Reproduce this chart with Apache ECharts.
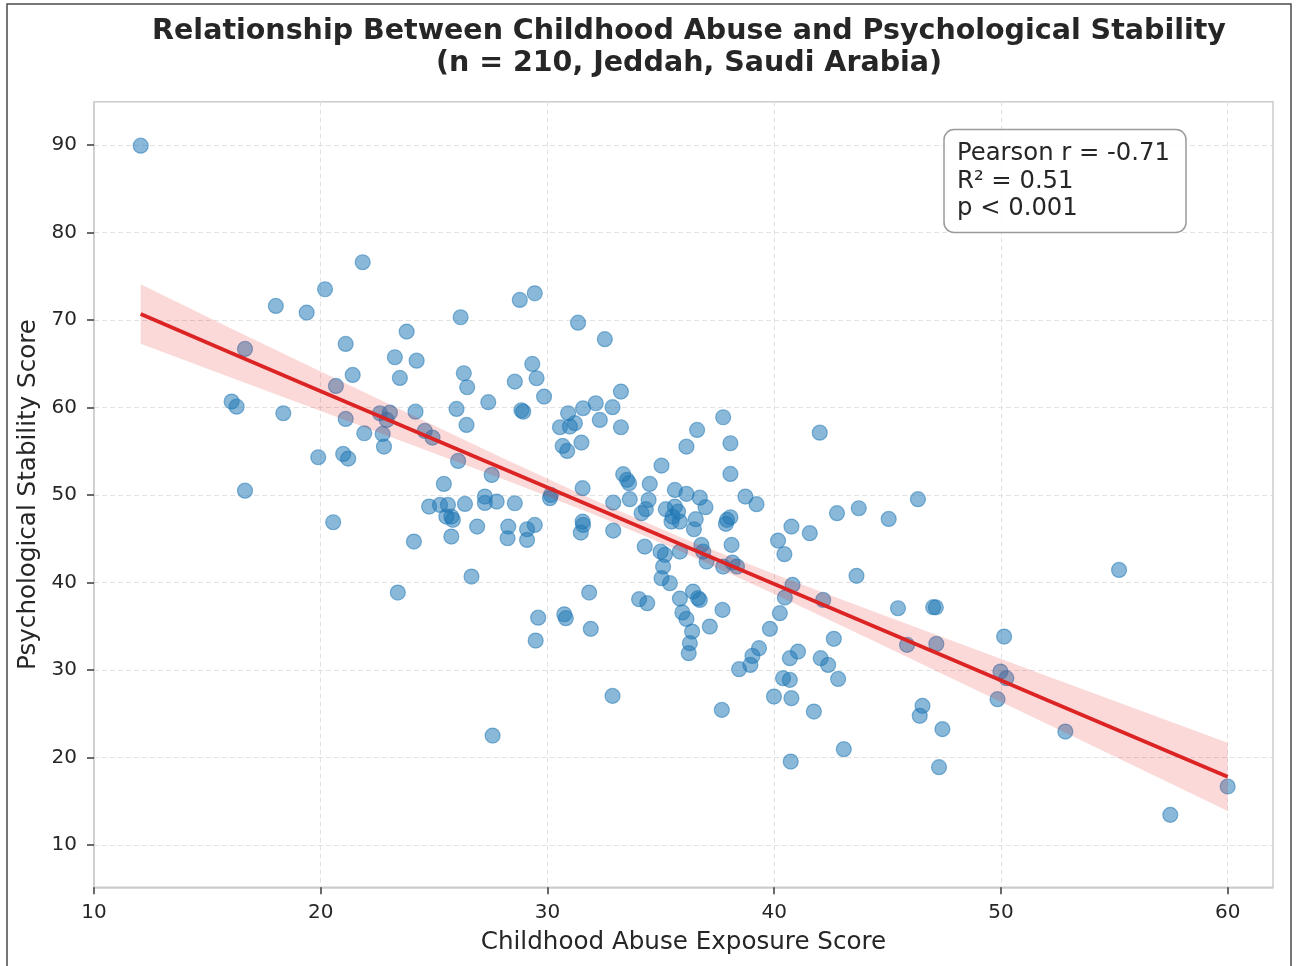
<!DOCTYPE html>
<html>
<head>
<meta charset="utf-8">
<script src="https://cdn.jsdelivr.net/npm/echarts@6/dist/echarts.min.js"></script>
<style>
html,body{margin:0;padding:0;background:#ffffff;}
#chart{width:1296px;height:966px;}
</style>
</head>
<body>
<div id="chart"></div>
<script>
// ---- data ----
const abuseScores = [
  12.06, 21.85, 20.19, 18.02, 19.38, 26.17, 23.79, 21.10, 23.27, 24.23,
  16.66, 21.41, 26.31, 23.49, 20.67, 26.46, 27.39, 16.07, 16.29, 18.35,
  25.99, 26.43, 24.18, 22.61, 23.05, 22.91, 21.10, 21.92, 22.73, 22.79,
  24.59, 24.93, 19.89, 20.99, 21.21, 26.06, 27.54, 25.43, 16.66, 24.78,
  25.26, 25.61, 25.54, 25.76, 25.83, 26.36, 27.24, 27.24, 27.76, 26.90,
  25.76, 20.55, 24.11, 26.65, 23.40, 27.58,
  28.78, 29.44, 31.35, 32.53, 29.33, 29.52, 28.56, 29.85, 28.93, 28.85,
  30.91, 31.57, 32.13, 32.87, 33.24, 30.55, 30.99, 31.21, 32.31, 33.24,
  30.67, 30.87, 31.50, 37.75, 36.60, 36.13, 38.07, 38.07, 35.03, 42.01,
  33.34, 33.51, 33.60, 34.51, 31.55, 35.62, 36.13, 36.72, 36.97, 38.73,
  39.22, 33.63, 34.46, 34.34, 34.15, 32.90, 35.22, 35.62, 35.52, 35.76,
  35.47, 35.84, 36.54, 36.46, 37.92, 38.07, 37.87, 28.56, 30.15, 30.11,
  28.27, 28.24, 29.10, 29.44, 29.10, 31.55, 31.57, 31.47, 32.90, 34.29,
  34.99, 35.18, 35.10, 35.03, 35.40, 35.84, 36.79, 36.87, 37.02, 38.12,
  37.75, 38.16, 38.36, 40.17, 40.45, 40.76, 41.57, 42.77, 43.73, 43.63,
  40.81, 40.47, 42.16, 31.84, 34.04, 34.40, 35.84, 36.42, 36.64, 36.72,
  37.72, 40.25, 29.59, 30.74, 30.81, 35.95, 36.13, 31.91, 29.48, 36.38,
  36.28, 36.23, 37.16, 39.81, 39.33, 39.04, 38.95, 38.45, 41.05, 40.69,
  42.63, 42.05, 42.38, 42.82, 40.39, 40.69, 39.99, 40.76, 41.75, 37.69,
  32.87, 43.07, 40.73,
  45.05, 46.34, 55.21, 45.46, 47.01, 47.13, 45.86, 47.15, 50.14, 49.98,
  50.24, 49.85, 46.54, 46.42, 47.42, 47.27, 52.84, 60.00, 57.47
];
const stabilityScores = [
  89.94, 76.62, 73.53, 71.62, 70.86, 70.33, 68.69, 67.28, 65.76, 65.37,
  66.71, 63.74, 63.93, 63.39, 62.48, 62.33, 60.62, 60.69, 60.11, 59.36,
  59.85, 58.02, 59.54, 59.36, 59.43, 58.59, 58.71, 57.07, 56.99, 55.54,
  57.34, 56.57, 54.33, 54.71, 54.17, 53.91, 52.31, 51.28, 50.51, 48.69,
  48.88, 48.88, 47.54, 47.54, 47.17, 48.99, 49.83, 49.11, 49.26, 46.40,
  45.26, 46.90, 44.69, 40.69, 38.86, 22.51,
  72.31, 73.07, 69.71, 67.82, 64.99, 63.36, 62.97, 61.26, 59.54, 59.70,
  59.36, 59.93, 60.50, 60.05, 61.83, 57.76, 57.83, 58.22, 58.59, 57.76,
  55.62, 55.05, 56.00, 58.90, 57.45, 55.54, 55.93, 52.42, 53.37, 57.14,
  52.39, 51.74, 51.36, 51.28, 50.79, 50.59, 50.14, 49.71, 48.62, 49.83,
  48.96, 49.53, 49.45, 48.39, 47.93, 49.14, 48.39, 48.69, 47.54, 48.11,
  46.97, 46.97, 47.25, 46.10, 47.17, 47.47, 46.71, 49.07, 50.02, 49.65,
  46.40, 45.07, 46.10, 46.59, 44.88, 46.97, 46.59, 45.71, 45.94, 44.11,
  43.54, 43.17, 41.83, 40.50, 39.93, 43.54, 44.31, 43.54, 42.40, 44.31,
  41.83, 42.29, 41.83, 44.80, 43.25, 46.40, 45.65, 47.93, 48.50, 40.77,
  39.74, 38.29, 38.02, 38.86, 38.10, 37.65, 38.17, 38.97, 38.22, 38.02,
  36.88, 36.50, 35.99, 36.37, 35.93, 36.59, 35.85, 34.71, 33.37, 34.40,
  33.07, 31.93, 34.97, 34.71, 32.50, 31.62, 30.59, 30.10, 32.11, 31.36,
  33.57, 31.36, 30.59, 28.99, 29.07, 28.88, 26.97, 26.79, 25.26, 25.45,
  27.05, 20.96, 19.54,
  47.28, 49.53, 41.45, 37.07, 37.19, 37.17, 32.88, 32.99, 33.83, 29.83,
  29.07, 26.67, 25.91, 24.77, 23.25, 18.90, 22.97, 16.69, 13.45
];

// regression line and its confidence band
const fitX    = [12.06, 16, 20, 24, 28, 32, 36, 40, 44, 48, 52, 56, 60];
const fitY    = [70.70, 66.29, 61.88, 57.48, 53.07, 48.66, 44.25, 39.84, 35.44, 31.03, 26.62, 22.21, 17.80];
const ciLower = [67.30, 63.47, 59.62, 55.77, 51.87, 47.83, 43.45, 38.70, 33.81, 28.85, 23.88, 18.89, 13.90];
const ciUpper = [74.10, 69.11, 64.14, 59.19, 54.27, 49.49, 45.05, 40.98, 37.07, 33.21, 29.36, 25.53, 21.70];

const xTicks = [10, 20, 30, 40, 50, 60];
const yTicks = [10, 20, 30, 40, 50, 60, 70, 80, 90];

const titleLines = [
  'Relationship Between Childhood Abuse and Psychological Stability',
  '(n = 210, Jeddah, Saudi Arabia)'
];
const statsLines = ['Pearson r = -0.71', 'R\u00B2 = 0.51', 'p < 0.001'];
const xAxisName = 'Childhood Abuse Exposure Score';
const yAxisName = 'Psychological Stability Score';

// ---- chart ----
const FONT = '"DejaVu Sans", sans-serif';
const chart = echarts.init(document.getElementById('chart'), null, {renderer: 'canvas'});
const points = abuseScores.map((x, i) => [x, stabilityScores[i]]);
const bandData = fitX.map((x, i) => [x, ciLower[i], ciUpper[i]]);
const lineData = fitX.map((x, i) => [x, fitY[i]]);

const option = {
  animation: false,
  backgroundColor: '#ffffff',
  title: {
    text: titleLines.join('\n'),
    left: 684,
    top: 11,
    textAlign: 'center',
    textStyle: {fontFamily: FONT, fontWeight: 'bold', fontSize: 28.5, lineHeight: 32, color: '#262626'}
  },
  grid: {
    left: 94, right: 23, top: 101.7, bottom: 78.7,
    show: true, borderColor: '#cccccc', borderWidth: 1.5, backgroundColor: 'transparent'
  },
  xAxis: {
    type: 'value', min: 10, max: 62,
    name: xAxisName, nameLocation: 'middle', nameGap: 43,
    nameTextStyle: {fontFamily: FONT, fontSize: 24.6, color: '#262626'},
    axisLine: {show: true, onZero: false, lineStyle: {color: '#cccccc', width: 1.5}},
    axisTick: {show: true, inside: false, length: 7, customValues: xTicks, lineStyle: {color: '#3a3a3a', width: 1.5}},
    axisLabel: {show: true, customValues: xTicks, margin: 15, fontFamily: FONT, fontSize: 20, color: '#262626'},
    splitLine: {show: true, lineStyle: {color: '#e2e2e2', width: 1, type: [5, 3]}}
  },
  yAxis: {
    type: 'value', min: 5.17, max: 94.97,
    name: yAxisName, nameLocation: 'middle', nameGap: 50, nameRotate: 90,
    nameTextStyle: {fontFamily: FONT, fontSize: 24.6, color: '#262626'},
    axisLine: {show: true, onZero: false, lineStyle: {color: '#cccccc', width: 1.5}},
    axisTick: {show: true, inside: false, length: 7, customValues: yTicks, lineStyle: {color: '#3a3a3a', width: 1.5}},
    axisLabel: {show: true, customValues: yTicks, margin: 17, fontFamily: FONT, fontSize: 20, color: '#262626'},
    splitLine: {show: true, lineStyle: {color: '#e2e2e2', width: 1, type: [5, 3]}}
  },
  series: [
    {
      type: 'scatter',
      data: points,
      symbol: 'circle',
      symbolSize: 15,
      itemStyle: {color: 'rgba(31,119,180,0.65)', borderColor: 'rgba(31,119,180,0.65)', borderWidth: 1.2},
      emphasis: {disabled: true},
      z: 2
    },
    {
      type: 'custom',
      data: bandData,
      silent: true,
      z: 3,
      renderItem: function (params, api) {
        if (params.dataIndex !== 0) return null;
        const pts = [];
        for (let i = 0; i < bandData.length; i++) pts.push(api.coord([bandData[i][0], bandData[i][2]]));
        for (let i = bandData.length - 1; i >= 0; i--) pts.push(api.coord([bandData[i][0], bandData[i][1]]));
        return {type: 'polygon', shape: {points: pts}, style: {fill: 'rgba(230,20,20,0.16)'}};
      }
    },
    {
      type: 'line',
      data: lineData,
      showSymbol: false,
      symbol: 'none',
      silent: true,
      z: 4,
      lineStyle: {color: '#dc2424', width: 3.8},
      emphasis: {disabled: true}
    }
  ],
  graphic: [
    {
      type: 'rect', z: 100,
      shape: {x: 944, y: 129.5, width: 242, height: 103, r: 10},
      style: {fill: 'rgba(255,255,255,0.85)', stroke: '#9a9a9a', lineWidth: 1.5}
    },
    {
      type: 'text', z: 101, x: 957, y: 140,
      style: {text: statsLines.join('\n'), fontFamily: FONT, fontSize: 24.3, lineHeight: 27.6, fill: '#262626', verticalAlign: 'top', align: 'left'}
    },
    {
      type: 'rect', z: 100, silent: true,
      shape: {x: 7, y: 4, width: 1284, height: 980},
      style: {fill: 'none', stroke: '#4a4a4a', lineWidth: 1.5}
    }
  ]
};
chart.setOption(option);
</script>
</body>
</html>
